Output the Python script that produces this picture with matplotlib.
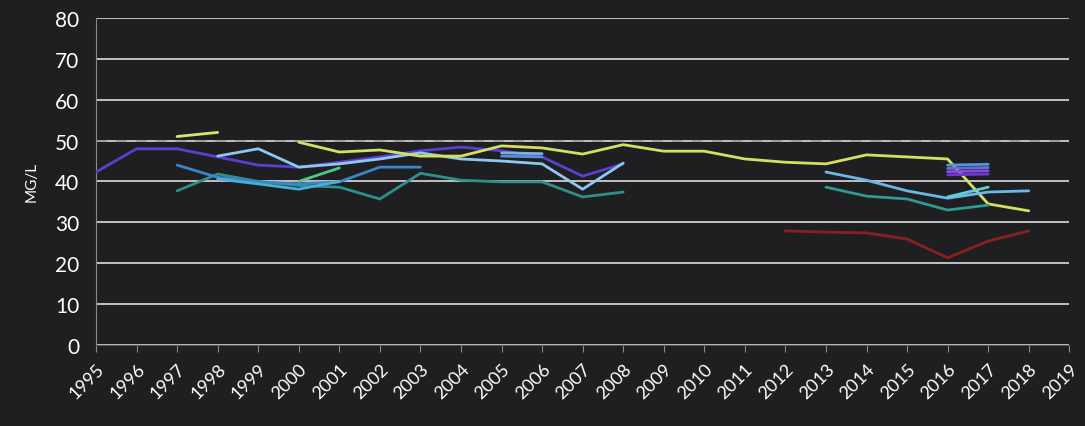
import numpy as np
import matplotlib.pyplot as plt

years = list(range(1995, 2020))
limit = 50

# each series: (start year, values)
s_purple = (1995, [42.3, 48, 48, 46, 44, 43.5, 44.7, 46, 47.5, 48.4, 47.5, 46, 41.3, 44.3])
s_yellow1 = (1997, [51, 52])
s_yellow2 = (2000, [49.6, 47.2, 47.7, 46.2, 46.2, 48.7, 48.2, 46.7, 49, 47.4, 47.4, 45.5,
                    44.7, 44.3, 46.5, 46, 45.5, 34.5, 32.8])
s_lblue = (1998, [46.2, 48, 43.5, 44.3, 45.5, 47, 45.5, 45, 44.3, 38.1, 44.5])
s_blue = (1997, [44, 41, 39.9, 39.4, 39.9, 43.5, 43.5])
s_teal = (1997, [37.7, 41.8, 40, 39, 38.6, 35.7, 42, 40.3, 39.9, 39.9, 36.2, 37.4])
s_cyan = (1998, [40.6, 39.4, 38.1, 40])
s_green = (2000, [40, 43.3])
s_lblue2 = (2013, [42.3, 40.3, 37.7, 35.9, 37.4, 37.7])
s_teal2 = (2013, [38.6, 36.4, 35.7, 33, 34.2])
s_cyan2 = (2016, [36.2, 38.6])
s_red = (2012, [27.9, 27.6, 27.4, 25.9, 21.3, 25.4, 27.9])
s_box1 = (2016, [44, 44.2])
s_box2 = (2016, [43.2, 43.4])
s_box3 = (2016, [42.4, 42.6])
s_box4 = (2016, [41.6, 41.8])
s_box5 = (2005, [47, 46.8])
s_box6 = (2005, [46.2, 46.0])

series = [
    (s_teal, '#2f8f8a'), (s_blue, '#3a86c8'), (s_cyan, '#48b0d8'), (s_green, '#4fc98a'),
    (s_purple, '#5a3fd0'), (s_lblue, '#8fc8ee'), (s_yellow1, '#d4e86a'), (s_yellow2, '#d4e060'),
    (s_lblue2, '#6ab8e8'), (s_teal2, '#2f9a8f'), (s_cyan2, '#5fd0d8'), (s_red, '#8a1f22'),
    (s_box1, '#4a9ad8'), (s_box2, '#6a6ae0'), (s_box3, '#8a4ae0'), (s_box4, '#6a3ad0'),
    (s_box5, '#7ab0e0'), (s_box6, '#5a90d0'),
]

bg = '#1f1f21'
fig = plt.figure(figsize=(10.85, 4.27), dpi=100, facecolor=bg)
ax = fig.add_axes([0.0885, 0.19, 0.897, 0.7655], facecolor=bg)

for (start, vals), c in series:
    xs = np.arange(start, start + len(vals))
    ax.plot(xs, vals, color=c, lw=2, solid_capstyle='round', zorder=3)

ax.axhline(limit, color='#9a9a9a', lw=1.3, ls=(0, (6, 5)), zorder=2)

ax.set_xlim(years[0], years[-1])
ax.set_ylim(0, 80)
ax.set_yticks(range(0, 81, 10))
ax.set_xticks(years)
ax.set_xticklabels([str(y) for y in years], rotation=45, ha='right', rotation_mode='anchor',
                   fontsize=13, color='white', family='Lato')
ax.set_yticklabels([str(v) for v in range(0, 81, 10)], fontsize=15, color='white', family='Lato')
ax.grid(axis='y', color='#dcdcdc', lw=1.2, zorder=1)
for s in ['top', 'right']:
    ax.spines[s].set_visible(False)
ax.spines['left'].set_color('#8a8a8a')
ax.spines['bottom'].set_color('#555555')
ax.tick_params(axis='y', length=0, pad=12)
ax.tick_params(axis='x', color='#8a8a8a', length=5, pad=6)
ax.set_ylabel('MG/L', color='white', fontsize=11, family='Lato', labelpad=12)

fig.savefig('out.png', dpi=100, facecolor=bg)
